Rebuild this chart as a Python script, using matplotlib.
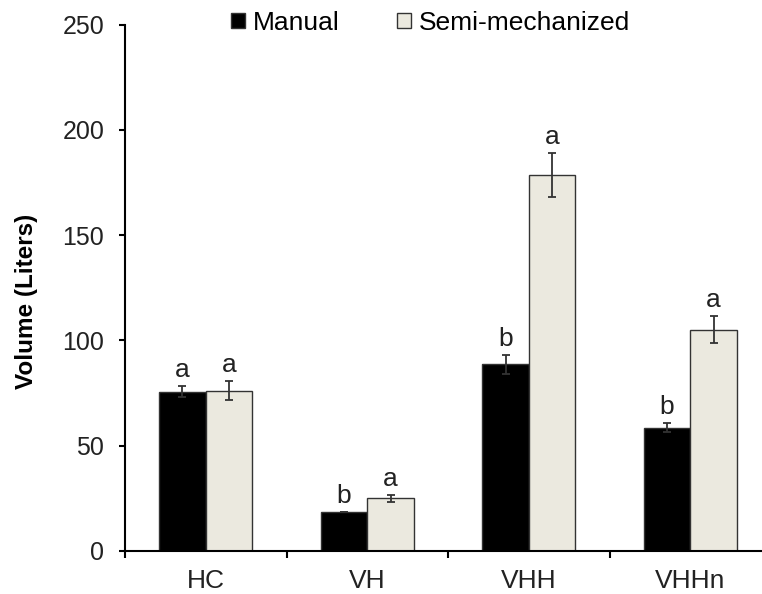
import numpy as np
import matplotlib.pyplot as plt

plt.rcParams['font.family'] = ['Liberation Sans', 'DejaVu Sans']

# data
categories = ['HC', 'VH', 'VHH', 'VHHn']
manual = [75.7, 18.4, 88.7, 58.6]
manual_err = [2.7, 0.0, 4.4, 2.0]
semi = [76.2, 25.0, 178.5, 105.0]
semi_err = [4.7, 1.6, 10.4, 6.4]
manual_letters = ['a', 'b', 'b', 'b']
semi_letters = ['a', 'a', 'a', 'a']

fig = plt.figure(figsize=(7.62, 5.94), dpi=100)
ax = fig.add_axes([0.164, 0.0724, 0.848, 0.886])

x = np.arange(len(categories))
w = 0.288
edge = '#333333'

ax.bar(x - w / 2, manual, w, color='black', edgecolor=edge, linewidth=1, label='Manual')
ax.bar(x + w / 2, semi, w, color='#EBE9DF', edgecolor=edge, linewidth=1, label='Semi-mechanized')

ax.errorbar(x - w / 2, manual, yerr=manual_err, fmt='none', ecolor=edge, elinewidth=1.3, capsize=3, capthick=1.3)
ax.errorbar(x + w / 2, semi, yerr=semi_err, fmt='none', ecolor=edge, elinewidth=1.3, capsize=3, capthick=1.3)

for xi, v, e, t in zip(x - w / 2, manual, manual_err, manual_letters):
    ax.annotate(t, (xi, v + e), xytext=(0, 3), textcoords='offset points', ha='center', va='bottom', fontsize=19, color='#222222')
for xi, v, e, t in zip(x + w / 2, semi, semi_err, semi_letters):
    ax.annotate(t, (xi, v + e), xytext=(0, 3), textcoords='offset points', ha='center', va='bottom', fontsize=19, color='#222222')

ax.set_xlim(-0.5, 3.5)
ax.set_ylim(0, 250)
ax.set_yticks(np.arange(0, 251, 50))
ax.set_xticks(x)
ax.set_xticklabels(categories)
ax.set_xticks(np.arange(-0.5, 3.6, 1), minor=True)
ax.tick_params(axis='x', which='major', length=0, pad=13, labelsize=19, colors='#222222')
ax.tick_params(axis='x', which='minor', length=5, width=1.5, direction='out')
ax.tick_params(axis='y', length=4, width=1.5, direction='out', labelsize=18, labelcolor='#222222', pad=11)

for s in ['top', 'right']:
    ax.spines[s].set_visible(False)
for s in ['left', 'bottom']:
    ax.spines[s].set_linewidth(1.5)

ax.set_ylabel('Volume (Liters)', fontsize=17.5, fontweight='bold')
ax.yaxis.set_label_coords(-0.135, 0.475)

leg = fig.legend(loc='center', bbox_to_anchor=(0.565, 0.962), ncol=2, frameon=False, fontsize=19,
                 handlelength=0.5, handleheight=0.5, handletextpad=0.3, columnspacing=2.2)

fig.savefig('out.png', dpi=100)
